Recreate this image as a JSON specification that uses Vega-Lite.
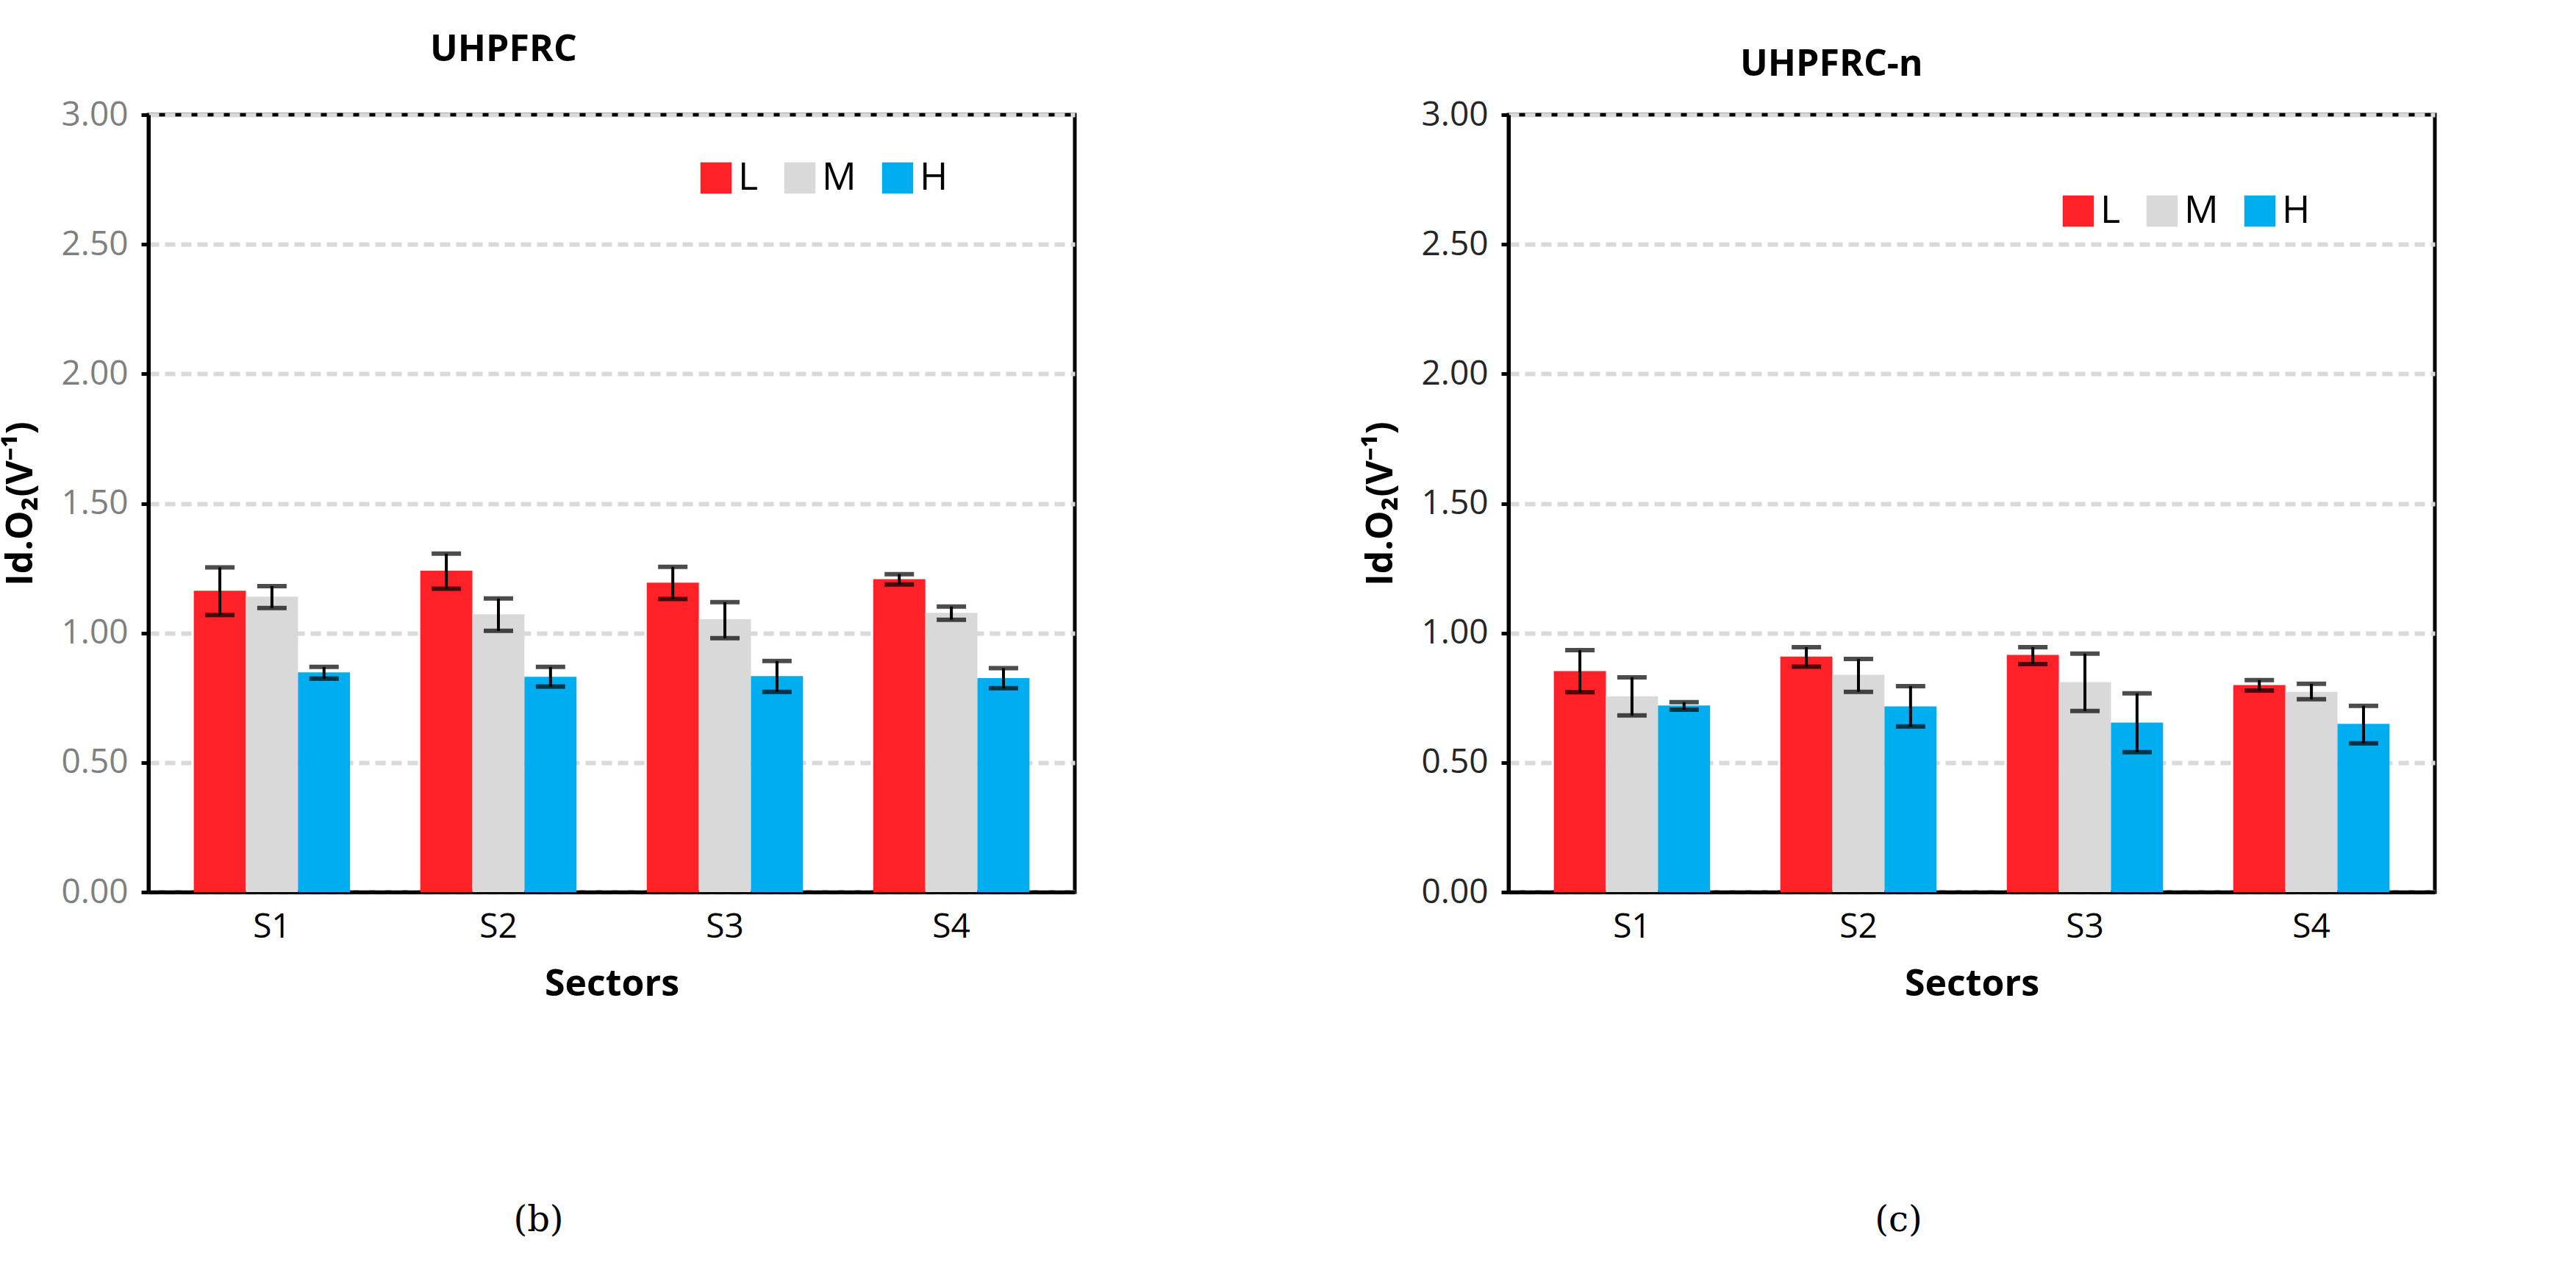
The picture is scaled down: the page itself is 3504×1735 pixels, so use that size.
{
  "$schema": "https://vega.github.io/schema/vega-lite/v6.json",
  "background": "white",
  "padding": {"left": 0, "top": 40, "right": 0, "bottom": 10},
  "spacing": 385,
  "datasets": {
    "bars": [
      {"panel": "b", "sector": "S1", "level": "L", "value": 1.163, "lo": 1.069, "hi": 1.253},
      {"panel": "b", "sector": "S1", "level": "M", "value": 1.140, "lo": 1.096, "hi": 1.181},
      {"panel": "b", "sector": "S1", "level": "H", "value": 0.848, "lo": 0.824, "hi": 0.869},
      {"panel": "b", "sector": "S2", "level": "L", "value": 1.240, "lo": 1.171, "hi": 1.306},
      {"panel": "b", "sector": "S2", "level": "M", "value": 1.072, "lo": 1.008, "hi": 1.133},
      {"panel": "b", "sector": "S2", "level": "H", "value": 0.831, "lo": 0.793, "hi": 0.869},
      {"panel": "b", "sector": "S3", "level": "L", "value": 1.194, "lo": 1.131, "hi": 1.255},
      {"panel": "b", "sector": "S3", "level": "M", "value": 1.053, "lo": 0.980, "hi": 1.119},
      {"panel": "b", "sector": "S3", "level": "H", "value": 0.834, "lo": 0.773, "hi": 0.892},
      {"panel": "b", "sector": "S4", "level": "L", "value": 1.208, "lo": 1.187, "hi": 1.227},
      {"panel": "b", "sector": "S4", "level": "M", "value": 1.078, "lo": 1.051, "hi": 1.102},
      {"panel": "b", "sector": "S4", "level": "H", "value": 0.826, "lo": 0.787, "hi": 0.864},
      {"panel": "c", "sector": "S1", "level": "L", "value": 0.853, "lo": 0.771, "hi": 0.934},
      {"panel": "c", "sector": "S1", "level": "M", "value": 0.756, "lo": 0.682, "hi": 0.829},
      {"panel": "c", "sector": "S1", "level": "H", "value": 0.720, "lo": 0.704, "hi": 0.733},
      {"panel": "c", "sector": "S2", "level": "L", "value": 0.909, "lo": 0.870, "hi": 0.945},
      {"panel": "c", "sector": "S2", "level": "M", "value": 0.839, "lo": 0.773, "hi": 0.900},
      {"panel": "c", "sector": "S2", "level": "H", "value": 0.717, "lo": 0.639, "hi": 0.795},
      {"panel": "c", "sector": "S3", "level": "L", "value": 0.915, "lo": 0.880, "hi": 0.945},
      {"panel": "c", "sector": "S3", "level": "M", "value": 0.810, "lo": 0.699, "hi": 0.920},
      {"panel": "c", "sector": "S3", "level": "H", "value": 0.654, "lo": 0.540, "hi": 0.767},
      {"panel": "c", "sector": "S4", "level": "L", "value": 0.799, "lo": 0.778, "hi": 0.818},
      {"panel": "c", "sector": "S4", "level": "M", "value": 0.773, "lo": 0.744, "hi": 0.804},
      {"panel": "c", "sector": "S4", "level": "H", "value": 0.649, "lo": 0.574, "hi": 0.719}
    ]
  },
  "config": {
    "font": "Open Sans",
    "view": {"stroke": "black", "strokeWidth": 5},
    "axis": {
      "domainColor": "black", "domainWidth": 5, "tickColor": "black", "tickWidth": 5,
      "labelFontSize": 46, "titleFontSize": 50, "titleFontWeight": "bold", "titleColor": "black"
    },
    "title": {"fontSize": 50, "fontWeight": "bold", "color": "black"}
  },
  "hconcat": [
    {
      "title": {"text": "(b)", "orient": "bottom", "anchor": "middle", "font": "DejaVu Serif", "fontSize": 48, "fontWeight": "normal", "offset": 270},
      "vconcat": [
        {
          "title": {"text": "UHPFRC", "anchor": "start", "offset": 40, "dx": 582},
          "width": 1260, "height": 1057,
          "data": {"name": "bars"},
          "transform": [{"filter": "datum.panel == 'b'"}],
          "encoding": {
            "x": {"field": "sector", "type": "nominal", "title": "Sectors",
                  "scale": {"paddingInner": 0.31, "paddingOuter": 0.2},
                  "axis": {"labelAngle": 0, "ticks": false, "labelPadding": 25, "titlePadding": 30, "labelColor": "black"}},
            "xOffset": {"field": "level", "type": "nominal", "scale": {"domain": ["L", "M", "H"]}}
          },
          "layer": [
            {
              "mark": {"type": "bar"},
              "encoding": {
                "y": {"field": "value", "type": "quantitative", "title": "Id.O₂(V⁻¹)",
                      "scale": {"domain": [0, 3]},
                      "axis": {"values": [0, 0.5, 1, 1.5, 2, 2.5, 3], "format": ".2f", "labelColor": "#7f7f7f",
                               "labelPadding": 18, "titlePadding": 30, "tickSize": 10,
                               "grid": true, "gridColor": "#D9D9D9", "gridWidth": 6, "gridDash": [14, 8]}},
                "color": {"field": "level", "type": "nominal",
                          "scale": {"domain": ["L", "M", "H"], "range": ["#FF2128", "#D9D9D9", "#00AEEF"]},
                          "legend": {"title": null, "orient": "none", "legendX": 746, "legendY": 60, "direction": "horizontal", "symbolType": "square",
                                     "symbolSize": 1800, "labelFontSize": 52, "symbolOpacity": 1, "columnPadding": 30}}
              }
            },
            {"mark": {"type": "rule", "color": "black", "strokeWidth": 4},
             "encoding": {"y": {"field": "lo", "type": "quantitative"}, "y2": {"field": "hi"}}},
            {"mark": {"type": "tick", "color": "black", "thickness": 6, "size": 40},
             "encoding": {"y": {"field": "lo", "type": "quantitative"}}},
            {"mark": {"type": "tick", "color": "black", "thickness": 6, "size": 40},
             "encoding": {"y": {"field": "hi", "type": "quantitative"}}}
          ]
        }
      ]
    },
    {
      "title": {"text": "(c)", "orient": "bottom", "anchor": "middle", "font": "DejaVu Serif", "fontSize": 48, "fontWeight": "normal", "offset": 270},
      "vconcat": [
        {
          "title": {"text": "UHPFRC-n", "anchor": "start", "offset": 20, "dx": 514},
          "width": 1260, "height": 1057,
          "data": {"name": "bars"},
          "transform": [{"filter": "datum.panel == 'c'"}],
          "encoding": {
            "x": {"field": "sector", "type": "nominal", "title": "Sectors",
                  "scale": {"paddingInner": 0.31, "paddingOuter": 0.2},
                  "axis": {"labelAngle": 0, "ticks": false, "labelPadding": 25, "titlePadding": 30, "labelColor": "black"}},
            "xOffset": {"field": "level", "type": "nominal", "scale": {"domain": ["L", "M", "H"]}}
          },
          "layer": [
            {
              "mark": {"type": "bar"},
              "encoding": {
                "y": {"field": "value", "type": "quantitative", "title": "Id.O₂(V⁻¹)",
                      "scale": {"domain": [0, 3]},
                      "axis": {"values": [0, 0.5, 1, 1.5, 2, 2.5, 3], "format": ".2f", "labelColor": "#262626",
                               "labelPadding": 18, "titlePadding": 30, "tickSize": 10,
                               "grid": true, "gridColor": "#D9D9D9", "gridWidth": 6, "gridDash": [14, 8]}},
                "color": {"field": "level", "type": "nominal",
                          "scale": {"domain": ["L", "M", "H"], "range": ["#FF2128", "#D9D9D9", "#00AEEF"]},
                          "legend": {"title": null, "orient": "none", "legendX": 749, "legendY": 105, "direction": "horizontal", "symbolType": "square",
                                     "symbolSize": 1800, "labelFontSize": 52, "symbolOpacity": 1, "columnPadding": 30}}
              }
            },
            {"mark": {"type": "rule", "color": "black", "strokeWidth": 4},
             "encoding": {"y": {"field": "lo", "type": "quantitative"}, "y2": {"field": "hi"}}},
            {"mark": {"type": "tick", "color": "black", "thickness": 6, "size": 40},
             "encoding": {"y": {"field": "lo", "type": "quantitative"}}},
            {"mark": {"type": "tick", "color": "black", "thickness": 6, "size": 40},
             "encoding": {"y": {"field": "hi", "type": "quantitative"}}}
          ]
        }
      ]
    }
  ],
  "resolve": {"legend": {"color": "independent"}}
}
